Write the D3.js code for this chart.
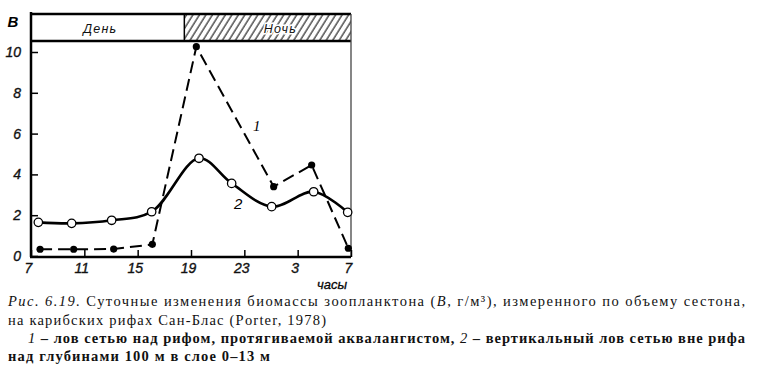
<!DOCTYPE html>
<html lang="ru">
<head>
<meta charset="UTF-8">
<title>Biomass of zooplankton</title>
<style>
  body { margin: 0; background: #fff; }
  .tick text { font-family: "Liberation Sans", sans-serif; font-style: italic; font-size: 14px; fill: #111; stroke: #111; stroke-width: 0.35px; }
  .caption text { font-family: "Liberation Serif", serif; font-size: 14.5px; fill: #111; }
</style>
</head>
<body>
<script src="https://d3js.org/d3.v7.min.js"></script>
<div id="chart"></div>
<script>
// hours past 7 am, wrap after midnight (27 = 3 h, 31 = 7 h)
const hourTicks = [7, 11, 15, 19, 23, 27, 31]
const hourLabels = ["7", "11", "15", "19", "23", "3", "7"]
const valueTicks = [0, 2, 4, 6, 8, 10]

// 1 - net over the reef (dashed, filled dots)
const reefHours = [7.68, 10.2, 13.2, 16.1, 19.4, 25.2, 28.05, 30.8]
const reefValues = [0.33, 0.33, 0.34, 0.57, 10.26, 3.4, 4.46, 0.38]

// 2 - vertical haul outside the reef (solid, open circles)
const openHours = [7.55, 10.05, 13.05, 16.05, 19.6, 22.05, 25.05, 28.2, 30.75]
const openValues = [1.65, 1.6, 1.75, 2.17, 4.79, 3.56, 2.42, 3.15, 2.14]

const periods = ["День", "Ночь"]
const periodBounds = [[7, 18.5], [18.5, 31]]

const W = 761, H = 376
const LEFT = 31, RIGHT = 351, TOP = 14, BAND = 41, BOTTOM = 256

const svg = d3.select("#chart").append("svg")
    .attr("width", W)
    .attr("height", H)

const x = d3.scaleLinear().domain([7, 31]).range([LEFT, RIGHT])
const y = d3.scaleLinear().domain([0, 10]).range([BOTTOM, 52])

// hatch for the night band
const defs = svg.append("defs")
defs.append("pattern")
    .attr("id", "hatch")
    .attr("width", 5.5).attr("height", 10)
    .attr("patternUnits", "userSpaceOnUse")
    .attr("patternTransform", "rotate(32)")
    .append("line")
    .attr("x1", 1).attr("y1", 0).attr("x2", 1).attr("y2", 10)
    .attr("stroke", "#111").attr("stroke-width", 1.1)

// day / night band
const band = svg.append("g")
band.selectAll("rect")
    .data(periodBounds)
    .join("rect")
    .attr("x", d => x(d[0]))
    .attr("y", TOP)
    .attr("width", d => x(d[1]) - x(d[0]))
    .attr("height", BAND - TOP)
    .attr("fill", (d, i) => i ? "url(#hatch)" : "#fff")

band.selectAll("text")
    .data(periods)
    .join("text")
    .attr("x", (d, i) => i ? x(25.7) : x(12.2))
    .attr("y", 33)
    .attr("text-anchor", "middle")
    .attr("font-family", "Liberation Sans, sans-serif")
    .attr("font-style", "italic")
    .attr("font-size", 12.5)
    .attr("letter-spacing", 1.2)
    .attr("fill", "#111")
    .style("paint-order", "stroke")
    .attr("stroke", (d, i) => i ? "#fff" : "none")
    .attr("stroke-width", 3)
    .text(d => d)

// frame
svg.append("line")
    .attr("x1", LEFT).attr("x2", RIGHT).attr("y1", TOP).attr("y2", TOP)
    .attr("stroke", "#000").attr("stroke-width", 2.5)
svg.append("line")
    .attr("x1", LEFT).attr("x2", RIGHT).attr("y1", BAND).attr("y2", BAND)
    .attr("stroke", "#000").attr("stroke-width", 2.5)
svg.append("line")
    .attr("x1", x(18.5)).attr("x2", x(18.5)).attr("y1", TOP).attr("y2", BAND)
    .attr("stroke", "#000").attr("stroke-width", 1.5)
svg.append("line")
    .attr("x1", RIGHT).attr("x2", RIGHT).attr("y1", TOP).attr("y2", BOTTOM + 1)
    .attr("stroke", "#444").attr("stroke-width", 1.3)
svg.append("line")
    .attr("x1", LEFT).attr("x2", LEFT).attr("y1", TOP - 2).attr("y2", BOTTOM + 1)
    .attr("stroke", "#000").attr("stroke-width", 2.5)
svg.append("line")
    .attr("x1", LEFT - 1).attr("x2", RIGHT).attr("y1", BOTTOM + 1).attr("y2", BOTTOM + 1)
    .attr("stroke", "#000").attr("stroke-width", 2.5)

// axes
const yAxis = svg.append("g")
    .attr("transform", `translate(${LEFT}, 0)`)
    .call(d3.axisLeft(y).tickValues(valueTicks).tickSizeInner(-7).tickSizeOuter(0).tickPadding(10))
yAxis.select(".domain").remove()
yAxis.selectAll(".tick line").attr("stroke-width", 1.5)

const xAxis = svg.append("g")
    .attr("transform", `translate(0, ${BOTTOM + 1})`)
    .call(d3.axisBottom(x).tickValues(hourTicks)
        .tickFormat((d, i) => hourLabels[i])
        .tickSizeInner(-7).tickSizeOuter(0).tickPadding(6))
xAxis.select(".domain").remove()
xAxis.selectAll(".tick line").attr("stroke-width", 1.5)
xAxis.selectAll(".tick text").attr("dx", -3)

svg.append("text")
    .attr("x", 13).attr("y", 27)
    .attr("text-anchor", "middle")
    .attr("font-family", "Liberation Sans, sans-serif")
    .attr("font-style", "italic").attr("font-weight", "bold")
    .attr("font-size", 15)
    .text("B")

svg.append("text")
    .attr("x", 347).attr("y", 289)
    .attr("text-anchor", "end")
    .attr("font-family", "Liberation Sans, sans-serif")
    .attr("font-style", "italic")
    .attr("font-size", 13)
    .attr("stroke", "#111").attr("stroke-width", 0.3)
    .text("часы")

// series 2
const openData = openHours.map((h, i) => [h, openValues[i]])
svg.append("path")
    .datum(openData)
    .attr("fill", "none")
    .attr("stroke", "#000")
    .attr("stroke-width", 2.6)
    .attr("d", d3.line().x(d => x(d[0])).y(d => y(d[1])).curve(d3.curveCatmullRom.alpha(0.5)))

// series 1
const reefData = reefHours.map((h, i) => [h, reefValues[i]])
svg.append("path")
    .datum(reefData)
    .attr("fill", "none")
    .attr("stroke", "#000")
    .attr("stroke-width", 2)
    .attr("stroke-dasharray", "12,6")
    .attr("d", d3.line().x(d => x(d[0])).y(d => y(d[1])))

svg.append("g").selectAll("circle")
    .data(openData)
    .join("circle")
    .attr("cx", d => x(d[0]))
    .attr("cy", d => y(d[1]))
    .attr("r", 4.2)
    .attr("fill", "#fff")
    .attr("stroke", "#000")
    .attr("stroke-width", 1.3)

svg.append("g").selectAll("circle")
    .data(reefData)
    .join("circle")
    .attr("cx", d => x(d[0]))
    .attr("cy", d => y(d[1]))
    .attr("r", 3.6)
    .attr("fill", "#000")

// series labels
svg.append("text")
    .attr("x", 253).attr("y", 131)
    .attr("font-family", "Liberation Serif, serif").attr("font-style", "italic")
    .attr("font-size", 15)
    .text("1")
svg.append("text")
    .attr("x", 234).attr("y", 209)
    .attr("font-family", "Liberation Sans, sans-serif").attr("font-style", "italic")
    .attr("font-size", 15)
    .text("2")

// caption
const cap = svg.append("g").attr("class", "caption")

const l1 = cap.append("text").attr("x", 8).attr("y", 306)
    .attr("textLength", 737).attr("lengthAdjust", "spacing")
l1.append("tspan").attr("font-style", "italic").text("Рис. 6.19.")
l1.append("tspan").text(" Суточные изменения биомассы зоопланктона (")
l1.append("tspan").attr("font-style", "italic").text("B")
l1.append("tspan").text(", г/м³), измеренного по объему сестона,")

cap.append("text").attr("x", 8).attr("y", 325)
    .attr("textLength", 318).attr("lengthAdjust", "spacing")
    .text("на карибских рифах Сан-Блас (Porter, 1978)")

const l3 = cap.append("text").attr("x", 28).attr("y", 343)
    .attr("font-weight", "bold")
    .attr("textLength", 717).attr("lengthAdjust", "spacing")
l3.append("tspan").attr("font-style", "italic").attr("font-weight", "normal").text("1")
l3.append("tspan").text(" – лов сетью над рифом, протягиваемой аквалангистом, ")
l3.append("tspan").attr("font-style", "italic").attr("font-weight", "normal").text("2")
l3.append("tspan").text(" – вертикальный лов сетью вне рифа")

cap.append("text").attr("x", 8).attr("y", 361)
    .attr("font-weight", "bold")
    .attr("textLength", 262).attr("lengthAdjust", "spacing")
    .text("над глубинами 100 м в слое 0–13 м")
</script>
</body>
</html>
